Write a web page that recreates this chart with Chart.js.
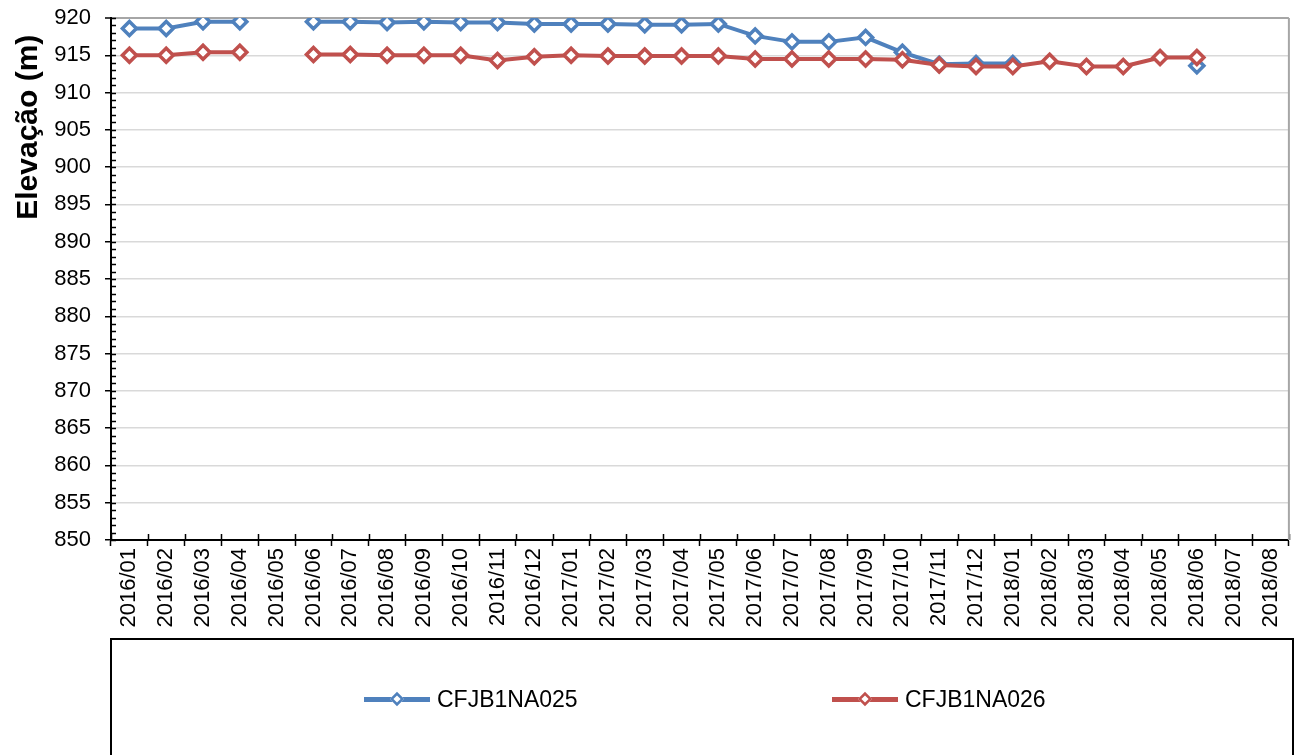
<!DOCTYPE html>
<html>
<head>
<meta charset="utf-8">
<script src="https://cdn.jsdelivr.net/npm/chart.js@4"></script>
<style>
  body { margin: 0; background: #fff; }
  #wrap { position: relative; width: 1299px; height: 755px; overflow: hidden; }
  #legend-box {
    position: absolute; left: 110px; top: 638px; width: 1180px; height: 140px;
    border: 2px solid #000; background: transparent;
    font-family: Arial, "Liberation Sans", sans-serif; font-size: 23px; color: #000;
  }
  .item { position: absolute; top: 46px; display: flex; align-items: center; }
  .sym { position: relative; width: 66px; height: 5px; margin-right: 7px; }
  .sym i {
    position: absolute; left: 27px; top: -4px; width: 12px; height: 12px;
    background: #fff; border: 3px solid; box-sizing: border-box;
    transform: rotate(45deg) scale(0.85);
  }
</style>
</head>
<body>
<div id="wrap">
  <canvas id="chart" width="1299" height="755"></canvas>
  <div id="legend-box">
    <div class="item" style="left:252px"><span class="sym" style="background:#4F81BD"><i style="border-color:#4F81BD"></i></span>CFJB1NA025</div>
    <div class="item" style="left:720px"><span class="sym" style="background:#C0504D"><i style="border-color:#C0504D"></i></span>CFJB1NA026</div>
  </div>
</div>
<script>
const months = [
  '2016/01', '2016/02', '2016/03', '2016/04', '2016/05', '2016/06', '2016/07', '2016/08',
  '2016/09', '2016/10', '2016/11', '2016/12', '2017/01', '2017/02', '2017/03', '2017/04',
  '2017/05', '2017/06', '2017/07', '2017/08', '2017/09', '2017/10', '2017/11', '2017/12',
  '2018/01', '2018/02', '2018/03', '2018/04', '2018/05', '2018/06', '2018/07', '2018/08'
];

const na025 = [
  918.6, 918.6, 919.5, 919.5, null, 919.5, 919.5, 919.4,
  919.5, 919.4, 919.4, 919.2, 919.2, 919.2, 919.1, 919.1,
  919.2, 917.6, 916.8, 916.8, 917.4, 915.4, 913.8, 913.9,
  913.9, null, null, null, null, 913.6, null, null
];

const na026 = [
  915.0, 915.0, 915.4, 915.4, null, 915.1, 915.1, 915.0,
  915.0, 915.0, 914.3, 914.8, 915.0, 914.9, 914.9, 914.9,
  914.9, 914.5, 914.5, 914.5, 914.5, 914.4, 913.7, 913.5,
  913.5, 914.2, 913.5, 913.5, 914.7, 914.7, null, null
];

const yMin = 850;
const yMax = 920;

Chart.defaults.font.family = 'Arial, "Liberation Sans", sans-serif';
Chart.defaults.color = '#000';

// kleine Striche an den Achsen (Excel-Stil)
const axisMarks = {
  id: 'axisMarks',
  afterDraw(chart) {
    const { ctx, chartArea, scales } = chart;
    const y = scales.y;
    const x = scales.x;
    ctx.save();
    ctx.strokeStyle = '#000';
    ctx.lineWidth = 1.5;
    ctx.beginPath();
    for (let v = yMin; v <= yMax; v++) {
      const py = Math.round(y.getPixelForValue(v)) + 0.5;
      ctx.moveTo(chartArea.left, py);
      ctx.lineTo(chartArea.left + 5, py);
    }
    for (let i = 0; i <= months.length; i++) {
      const px = Math.round(x.getPixelForValue(i - 0.5)) + 0.5;
      ctx.moveTo(px, chartArea.bottom);
      ctx.lineTo(px, chartArea.bottom - 6);
    }
    ctx.stroke();
    // rechter Rand
    ctx.strokeStyle = '#A6A6A6';
    ctx.lineWidth = 2;
    ctx.beginPath();
    ctx.moveTo(chartArea.right, chartArea.top);
    ctx.lineTo(chartArea.right, chartArea.bottom);
    ctx.stroke();
    ctx.restore();
  }
};

new Chart(document.getElementById('chart'), {
  type: 'line',
  data: {
    labels: months,
    datasets: [
      {
        label: 'CFJB1NA025',
        data: na025,
        borderColor: '#4F81BD',
        pointBorderColor: '#4F81BD',
        order: 1
      },
      {
        label: 'CFJB1NA026',
        data: na026,
        borderColor: '#C0504D',
        pointBorderColor: '#C0504D',
        order: 0
      }
    ]
  },
  options: {
    responsive: false,
    animation: false,
    spanGaps: false,
    layout: { autoPadding: false, padding: { top: 18, right: 7, bottom: 115, left: 0 } },
    elements: {
      line: { borderWidth: 4, tension: 0 },
      point: {
        pointStyle: 'rectRot',
        radius: 7,
        borderWidth: 3.5,
        backgroundColor: '#fff'
      }
    },
    plugins: {
      legend: { display: false },
      tooltip: { enabled: false }
    },
    scales: {
      x: {
        offset: true,
        border: { color: '#000', width: 2 },
        grid: { drawOnChartArea: false, tickLength: 6, tickColor: '#000', tickWidth: 1.5, offset: true },
        ticks: { minRotation: 90, maxRotation: 90, padding: 2, autoSkip: false, font: { size: 22 } },
        afterFit(scale) { scale.height = 100; }
      },
      y: {
        min: yMin,
        max: yMax,
        border: { color: '#000', width: 2 },
        grid: {
          color: ctx => ctx.tick && ctx.tick.value === yMax ? '#A6A6A6' : '#D9D9D9',
          lineWidth: ctx => ctx.tick && ctx.tick.value === yMax ? 2 : 1.5,
          tickColor: '#000',
          tickLength: 6,
          tickWidth: 1.5
        },
        ticks: { stepSize: 5, padding: 14, font: { size: 22 } },
        title: {
          display: true,
          text: 'Elevação (m)\u00A0\u00A0',
          align: 'end',
          padding: { top: 11, bottom: 0 },
          font: { size: 30, weight: 'bold' }
        },
        afterFit(scale) {
          scale.width = 111;
          scale.paddingTop = 0;
          scale.paddingBottom = 0;
        }
      }
    }
  },
  plugins: [axisMarks]
});
</script>
</body>
</html>
